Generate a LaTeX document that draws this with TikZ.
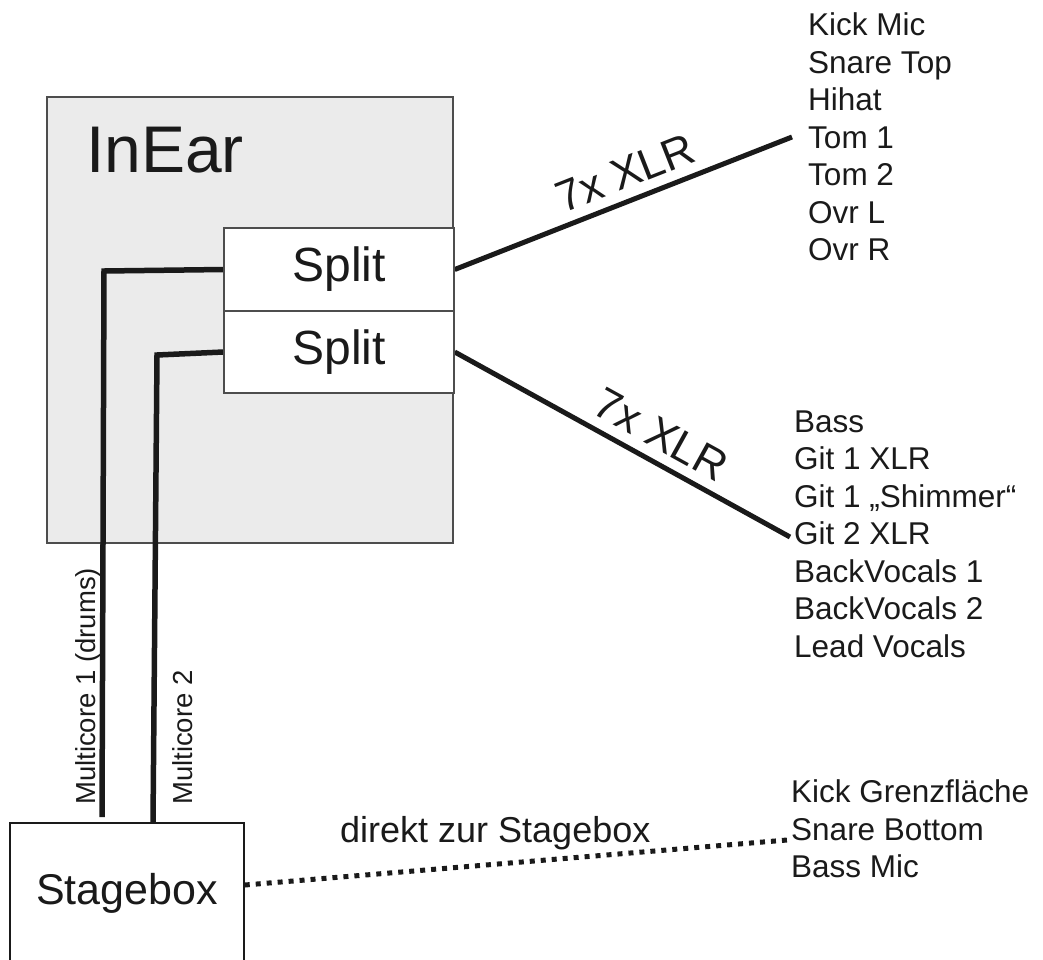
\documentclass[tikz,border=0pt]{standalone}
\usepackage{fontspec}
\setmainfont{Liberation Sans}
\usetikzlibrary{calc}
\definecolor{ink}{HTML}{1A1A1A}
\definecolor{boxgray}{HTML}{EBEBEB}
\definecolor{edgegray}{HTML}{4D4D4D}
\newcommand\fsz[1]{\fontsize{#1}{#1}\selectfont}
\begin{document}
\begin{tikzpicture}[x=1pt,y=-1pt,
  cable/.style={line width=5.5pt, draw=ink},
  boxstyle/.style={draw=edgegray, line width=1.5pt, rectangle, inner sep=0pt, text=ink},
  listtext/.style={align=left, anchor=north west, inner sep=0pt, text=ink,
                   font=\fontsize{31.5}{37.5}\selectfont},
  xlrlabel/.style={sloped, above, inner sep=10pt, text=ink, font=\fsz{44}},
  vlabel/.style={rotate=90, anchor=base west, inner sep=0pt, text=ink, font=\fsz{27.5}}]
\clip (0,0) rectangle (1043,959);

% InEar box
\node[boxstyle, fill=boxgray, minimum width=406pt, minimum height=446pt] (inear) at (250,320) {};
\node[anchor=base west, inner sep=0pt, text=ink, font=\fsz{66}] (inearlbl) at (86,172) {InEar};

% Stagebox
\node[draw=ink, line width=1.5pt, rectangle, inner sep=0pt, text=ink,
      minimum width=234pt, minimum height=140pt, font=\fsz{43}] (stagebox) at (127,893) {Stagebox};

% coordinates
\coordinate (m1bend) at (104,271);
\coordinate (m1end) at (102,817);
\coordinate (m2bend) at (157,355);
\coordinate (m2end) at (153,823);
\coordinate (drumsend) at (792,137);
\coordinate (bandend) at (790,537);
\coordinate (directend) at (787,840);

% Split boxes (first pass for anchors)
\path (339,269.5) node[boxstyle, minimum width=230pt, minimum height=83pt] (split1) {};
\path (339,352) node[boxstyle, minimum width=230pt, minimum height=82pt] (split2) {};

% cables
\draw[cable] (split1.west) -- (m1bend) -- (m1end);
\draw[cable] (split2.west) -- (m2bend) -- (m2end);
\draw[cable, line width=5pt] (split1.east) -- node[xlrlabel, pos=0.536] {7x XLR} (drumsend);
\draw[cable, line width=5pt] (split2.east) -- node[xlrlabel, pos=0.576] {7x XLR} (bandend);
\draw[ink, line width=5pt, dash pattern=on 5pt off 6pt] ([yshift=8pt]stagebox.east) -- (directend);

% Split boxes drawn on top
\node[boxstyle, fill=white, minimum width=230pt, minimum height=83pt, font=\fsz{48}] (split1t) at (split1) {Split};
\node[boxstyle, fill=white, minimum width=230pt, minimum height=82pt, font=\fsz{48}] (split2t) at (split2) {Split};

% labels
\node[vlabel] (mc1) at (95,805) {Multicore 1 (drums)};
\node[vlabel] (mc2) at (192,805) {Multicore 2};
\node[anchor=base west, inner sep=0pt, text=ink, font=\fsz{36}] (direkt) at (340,842) {direkt zur Stagebox};

% lists
\node[listtext] (drums) at (808,12.5) {Kick Mic\\Snare Top\\Hihat\\Tom 1\\Tom 2\\Ovr L\\Ovr R};
\node[listtext] (band) at (794,410.5) {Bass\\Git 1 XLR\\Git 1 „Shimmer“\\Git 2 XLR\\BackVocals 1\\BackVocals 2\\Lead Vocals};
\node[listtext] (direct) at (791,779.5) {Kick Grenzfläche\\Snare Bottom\\Bass Mic};
\end{tikzpicture}
\end{document}
